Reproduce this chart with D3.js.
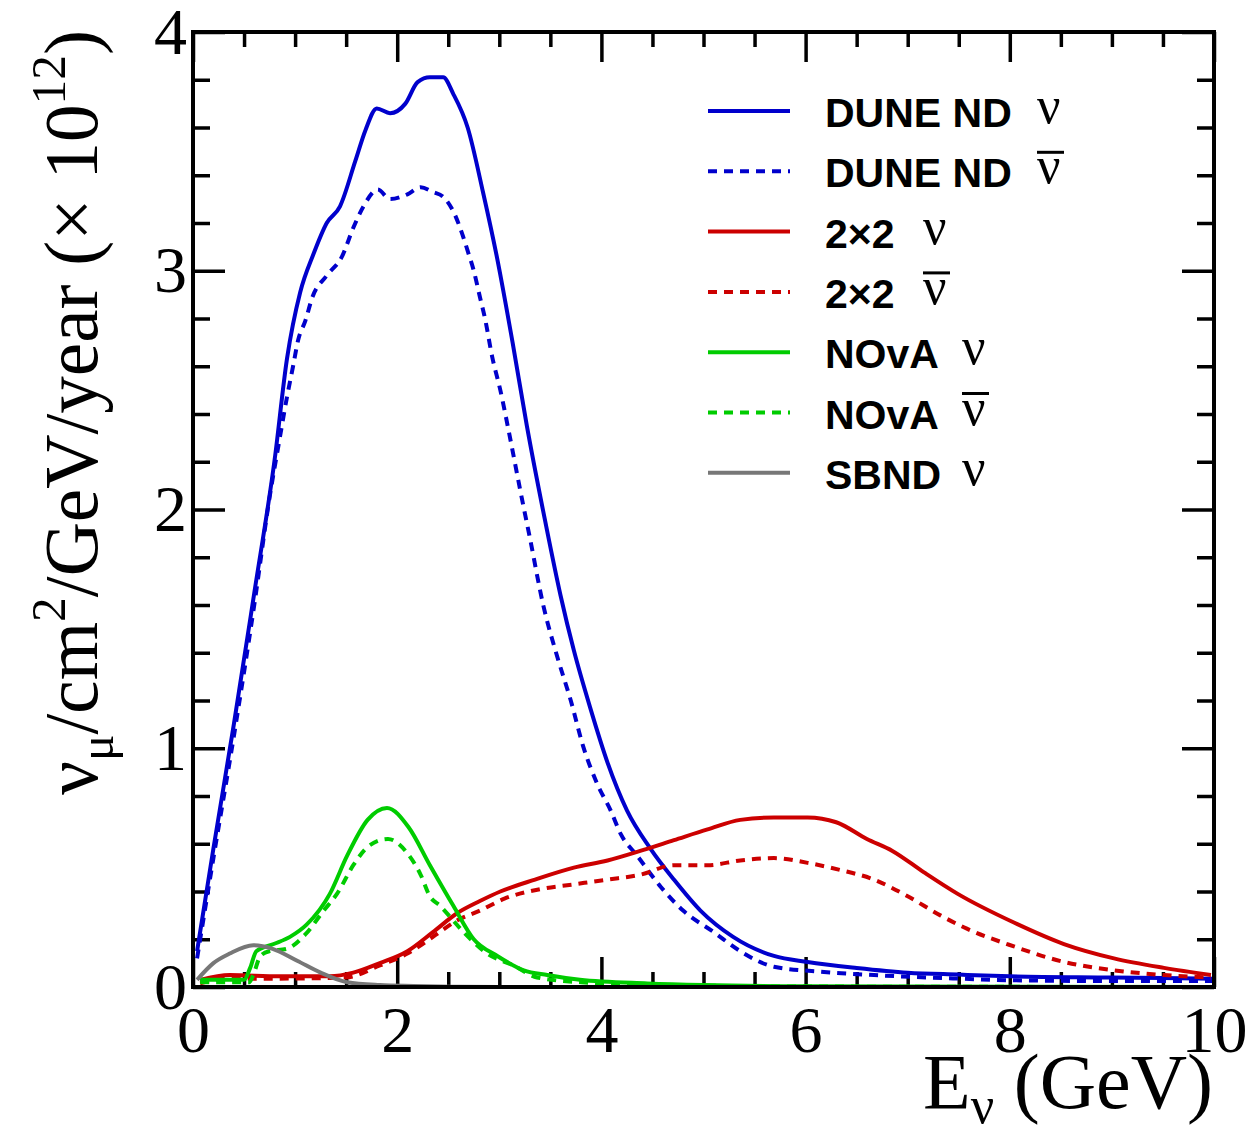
<!DOCTYPE html>
<html>
<head>
<meta charset="utf-8">
<script src="https://cdn.jsdelivr.net/npm/d3@7"></script>
<style>
  body { margin: 0; background: #fff; }
  svg { display: block; }
</style>
</head>
<body>
<svg id="chart" width="1256" height="1127"></svg>
<script>
// flux curves, [E (GeV), flux (x1e12 nu/cm2/GeV/year)]
const duneNu = [
    [0.04, 0.15], [0.2, 0.58], [0.4, 1.1], [0.6, 1.65], [0.8, 2.21], [0.92, 2.63],
    [1.05, 2.91], [1.18, 3.07], [1.31, 3.2], [1.44, 3.27], [1.59, 3.46], [1.69, 3.59],
    [1.8, 3.68], [1.93, 3.66], [2.08, 3.7], [2.2, 3.79], [2.32, 3.81], [2.45, 3.81],
    [2.55, 3.74], [2.69, 3.6], [2.84, 3.33], [2.98, 3.05], [3.13, 2.7], [3.27, 2.35],
    [3.45, 1.95], [3.6, 1.64], [3.73, 1.41], [3.89, 1.17], [4.06, 0.94], [4.25, 0.74],
    [4.48, 0.58], [4.71, 0.45], [4.97, 0.32], [5.29, 0.21], [5.69, 0.13], [6.02, 0.105],
    [6.5, 0.08], [7.0, 0.06], [7.5, 0.052], [8.0, 0.045], [9.0, 0.04], [10.0, 0.035]
];
const duneNuBar = [
    [0.04, 0.12], [0.2, 0.54], [0.4, 1.05], [0.6, 1.6], [0.75, 2.05], [0.85, 2.3],
    [0.92, 2.47], [0.98, 2.6], [1.03, 2.71], [1.1, 2.79], [1.17, 2.89], [1.31, 2.98],
    [1.46, 3.06], [1.57, 3.18], [1.67, 3.27], [1.81, 3.34], [1.93, 3.3], [2.1, 3.32],
    [2.23, 3.35], [2.35, 3.33], [2.45, 3.31], [2.57, 3.23], [2.64, 3.15], [2.7, 3.07],
    [2.75, 3.0], [2.81, 2.89], [2.86, 2.8], [2.93, 2.64], [3.01, 2.5], [3.11, 2.29],
    [3.21, 2.07], [3.3, 1.88], [3.43, 1.6], [3.57, 1.38], [3.7, 1.2], [3.82, 1.01],
    [3.96, 0.85], [4.09, 0.74], [4.19, 0.64], [4.35, 0.55], [4.58, 0.42], [4.8, 0.32],
    [5.1, 0.23], [5.36, 0.15], [5.69, 0.085], [6.18, 0.063], [6.67, 0.05], [7.5, 0.035],
    [8.04, 0.028], [9.0, 0.025], [10.0, 0.025]
];
const twoByTwoNu = [
    [0.07, 0.03], [0.36, 0.05], [0.85, 0.045], [1.34, 0.045], [1.57, 0.06], [1.83, 0.1],
    [2.1, 0.15], [2.35, 0.23], [2.59, 0.31], [2.81, 0.36], [3.01, 0.4], [3.35, 0.45],
    [3.73, 0.5], [4.06, 0.53], [4.38, 0.57], [4.71, 0.615], [5.04, 0.66],
    [5.36, 0.7], [5.69, 0.71], [6.02, 0.71], [6.3, 0.69], [6.6, 0.62], [6.85, 0.57],
    [7.16, 0.48], [7.49, 0.39], [8.04, 0.27], [8.53, 0.18], [9.02, 0.12], [9.51, 0.08],
    [9.97, 0.05]
];
const twoByTwoNuBar = [
    [0.07, 0.015], [0.36, 0.035], [0.85, 0.035], [1.5, 0.04], [1.83, 0.09], [2.1, 0.14],
    [2.35, 0.21], [2.59, 0.28], [2.81, 0.32], [3.05, 0.37], [3.4, 0.41],
    [3.73, 0.43], [4.06, 0.45], [4.38, 0.47], [4.71, 0.51], [5.04, 0.51], [5.36, 0.53],
    [5.69, 0.54], [6.02, 0.52], [6.34, 0.49], [6.67, 0.45], [7.0, 0.38], [7.32, 0.3],
    [7.55, 0.25], [8.04, 0.17], [8.53, 0.105], [9.02, 0.07], [9.51, 0.05], [9.97, 0.04]
];
const novaNu = [
    [0.07, 0.03], [0.5, 0.03], [0.56, 0.08], [0.62, 0.15], [0.79, 0.18], [0.95, 0.21],
    [1.11, 0.26], [1.34, 0.39], [1.51, 0.55], [1.71, 0.7], [1.9, 0.75], [2.11, 0.67],
    [2.32, 0.51], [2.55, 0.34], [2.75, 0.2], [2.98, 0.13], [3.24, 0.07], [3.47, 0.05],
    [3.79, 0.03], [4.45, 0.015], [5.0, 0.008], [6.0, 0.003], [10.0, 0.0]
];
const novaNuBar = [
    [0.07, 0.02], [0.55, 0.02], [0.59, 0.05], [0.66, 0.13], [0.75, 0.15], [0.92, 0.16],
    [1.1, 0.22], [1.28, 0.32], [1.41, 0.39], [1.57, 0.51], [1.72, 0.59], [1.91, 0.62],
    [2.1, 0.56], [2.23, 0.47], [2.32, 0.38], [2.42, 0.34], [2.65, 0.23], [2.88, 0.14],
    [3.14, 0.09], [3.37, 0.04], [3.8, 0.02], [4.5, 0.01], [6.0, 0.002], [10.0, 0.0]
];
const sbndNu = [
    [0.04, 0.03], [0.2, 0.1], [0.36, 0.14], [0.59, 0.175], [0.78, 0.16], [1.02, 0.11],
    [1.25, 0.06], [1.51, 0.02], [1.83, 0.008], [2.16, 0.004], [2.6, 0.001], [3.0, 0.0]
];

const legendLabels = ["DUNE ND", "DUNE ND", "2\u00d72", "2\u00d72", "NOvA", "NOvA", "SBND"];
const legendAnti = [false, true, false, true, false, true, false];
const xTicks = [0, 2, 4, 6, 8, 10];
const yTicks = [0, 1, 2, 3, 4];

const series = [
    { data: duneNu, color: "#0000cc", dashed: false },
    { data: duneNuBar, color: "#0000cc", dashed: true },
    { data: twoByTwoNu, color: "#cc0000", dashed: false },
    { data: twoByTwoNuBar, color: "#cc0000", dashed: true },
    { data: novaNu, color: "#00cc00", dashed: false },
    { data: novaNuBar, color: "#00cc00", dashed: true },
    { data: sbndNu, color: "#777777", dashed: false }
];

const svg = d3.select("#chart");
const plotLeft = 193, plotRight = 1214, plotTop = 32, plotBottom = 987;
const serif = "'Liberation Serif', 'Times New Roman', serif";
const sans = "'Liberation Sans', Arial, Helvetica, sans-serif";

const x = d3.scaleLinear().domain([0, 10]).range([plotLeft, plotRight]);
const y = d3.scaleLinear().domain([0, 4]).range([plotBottom, plotTop]);

svg.append("defs").append("clipPath").attr("id", "plot-clip")
    .append("rect")
    .attr("x", plotLeft).attr("y", plotTop)
    .attr("width", plotRight - plotLeft).attr("height", plotBottom - plotTop);

// ticks, ROOT style: pointing inward on all four sides
function styleAxis(g) {
    g.select(".domain").remove();
    g.selectAll(".tick line").attr("stroke", "#000").attr("stroke-width", 3.5);
}

const tickText = g => g.selectAll("text")
    .attr("font-family", serif)
    .attr("font-size", 66)
    .attr("fill", "#000");

const xMinor = d3.range(0, 10.01, 0.5).filter(v => v % 2 !== 0);
const yMinor = d3.range(0, 4.001, 0.2).filter(v => Math.abs(v - Math.round(v)) > 1e-6);

svg.append("g")
    .attr("transform", `translate(0,${plotBottom})`)
    .call(d3.axisBottom(x).tickValues(xMinor).tickSize(-15).tickFormat(""))
    .call(styleAxis);
svg.append("g")
    .attr("transform", `translate(0,${plotBottom})`)
    .call(d3.axisBottom(x).tickValues(xTicks).tickSize(-30).tickPadding(18).tickFormat(d3.format("d")))
    .call(styleAxis)
    .call(tickText);

svg.append("g")
    .attr("transform", `translate(0,${plotTop})`)
    .call(d3.axisTop(x).tickValues(xMinor).tickSize(-15).tickFormat(""))
    .call(styleAxis);
svg.append("g")
    .attr("transform", `translate(0,${plotTop})`)
    .call(d3.axisTop(x).tickValues(xTicks).tickSize(-30).tickFormat(""))
    .call(styleAxis);

svg.append("g")
    .attr("transform", `translate(${plotLeft},0)`)
    .call(d3.axisLeft(y).tickValues(yMinor).tickSize(-17).tickFormat(""))
    .call(styleAxis);
svg.append("g")
    .attr("transform", `translate(${plotLeft},0)`)
    .call(d3.axisLeft(y).tickValues(yTicks).tickSize(-32).tickPadding(6).tickFormat(d3.format("d")))
    .call(styleAxis)
    .call(tickText);

svg.append("g")
    .attr("transform", `translate(${plotRight},0)`)
    .call(d3.axisRight(y).tickValues(yMinor).tickSize(-17).tickFormat(""))
    .call(styleAxis);
svg.append("g")
    .attr("transform", `translate(${plotRight},0)`)
    .call(d3.axisRight(y).tickValues(yTicks).tickSize(-32).tickFormat(""))
    .call(styleAxis);

// curves
const line = d3.line()
    .x(d => x(d[0]))
    .y(d => y(d[1]))
    .curve(d3.curveMonotoneX);

const plot = svg.append("g").attr("clip-path", "url(#plot-clip)");

plot.selectAll("path.flux")
    .data(series)
    .join("path")
    .attr("class", "flux")
    .attr("d", d => line(d.data))
    .attr("fill", "none")
    .attr("stroke", d => d.color)
    .attr("stroke-width", 4)
    .attr("stroke-dasharray", d => d.dashed ? "9,7" : null);

// frame
svg.append("rect")
    .attr("x", plotLeft).attr("y", plotTop)
    .attr("width", plotRight - plotLeft).attr("height", plotBottom - plotTop)
    .attr("fill", "none")
    .attr("stroke", "#000")
    .attr("stroke-width", 4);

// legend
const rowY = i => 111 + i * 60.3;
const nuX = [1037, 1037, 923, 923, 962, 962, 962];

const legend = svg.append("g");

legend.selectAll("line.key")
    .data(series)
    .join("line")
    .attr("class", "key")
    .attr("x1", 708).attr("x2", 790)
    .attr("y1", (d, i) => rowY(i)).attr("y2", (d, i) => rowY(i))
    .attr("stroke", d => d.color)
    .attr("stroke-width", 4)
    .attr("stroke-dasharray", d => d.dashed ? "9,7" : null);

legend.selectAll("text.label")
    .data(legendLabels)
    .join("text")
    .attr("class", "label")
    .attr("x", 825)
    .attr("y", (d, i) => rowY(i) + 16)
    .attr("font-family", sans)
    .attr("font-size", 41)
    .attr("font-weight", "bold")
    .attr("fill", "#000")
    .text(d => d);

legend.selectAll("text.nu")
    .data(legendAnti)
    .join("text")
    .attr("class", "nu")
    .attr("x", (d, i) => nuX[i])
    .attr("y", (d, i) => rowY(i) + 12)
    .attr("font-family", serif)
    .attr("font-size", 52)
    .attr("fill", "#000")
    .text("ν");

legend.selectAll("line.bar")
    .data(legendAnti.map((d, i) => ({ anti: d, i })).filter(d => d.anti))
    .join("line")
    .attr("class", "bar")
    .attr("x1", d => nuX[d.i]).attr("x2", d => nuX[d.i] + 27)
    .attr("y1", d => rowY(d.i) - 19).attr("y2", d => rowY(d.i) - 19)
    .attr("stroke", "#000")
    .attr("stroke-width", 3);

// axis titles
const yTitle = svg.append("text")
    .attr("font-family", serif)
    .attr("font-size", 76)
    .attr("fill", "#000");
yTitle.append("tspan").text("ν");
yTitle.append("tspan").attr("font-size", 50).attr("dy", 16).text("μ");
yTitle.append("tspan").attr("dy", -16).text("/cm");
yTitle.append("tspan").attr("font-size", 50).attr("dy", -32).text("2");
yTitle.append("tspan").attr("dy", 32).text("/GeV/year (× 10");
yTitle.append("tspan").attr("font-size", 50).attr("dy", -32).text("12");
yTitle.append("tspan").attr("dy", 32).text(")");

const yTitleLen = yTitle.node().getComputedTextLength();
const k = 765 / yTitleLen;
yTitle.attr("transform", `translate(97,795) rotate(-90) scale(${k})`);

const xTitle = svg.append("text")
    .attr("x", 1213)
    .attr("y", 1108)
    .attr("text-anchor", "end")
    .attr("font-family", serif)
    .attr("font-size", 78)
    .attr("fill", "#000");
xTitle.append("tspan").text("E");
xTitle.append("tspan").attr("font-size", 52).attr("dy", 15).text("ν");
xTitle.append("tspan").attr("dy", -15).text(" (GeV)");
</script>
</body>
</html>
